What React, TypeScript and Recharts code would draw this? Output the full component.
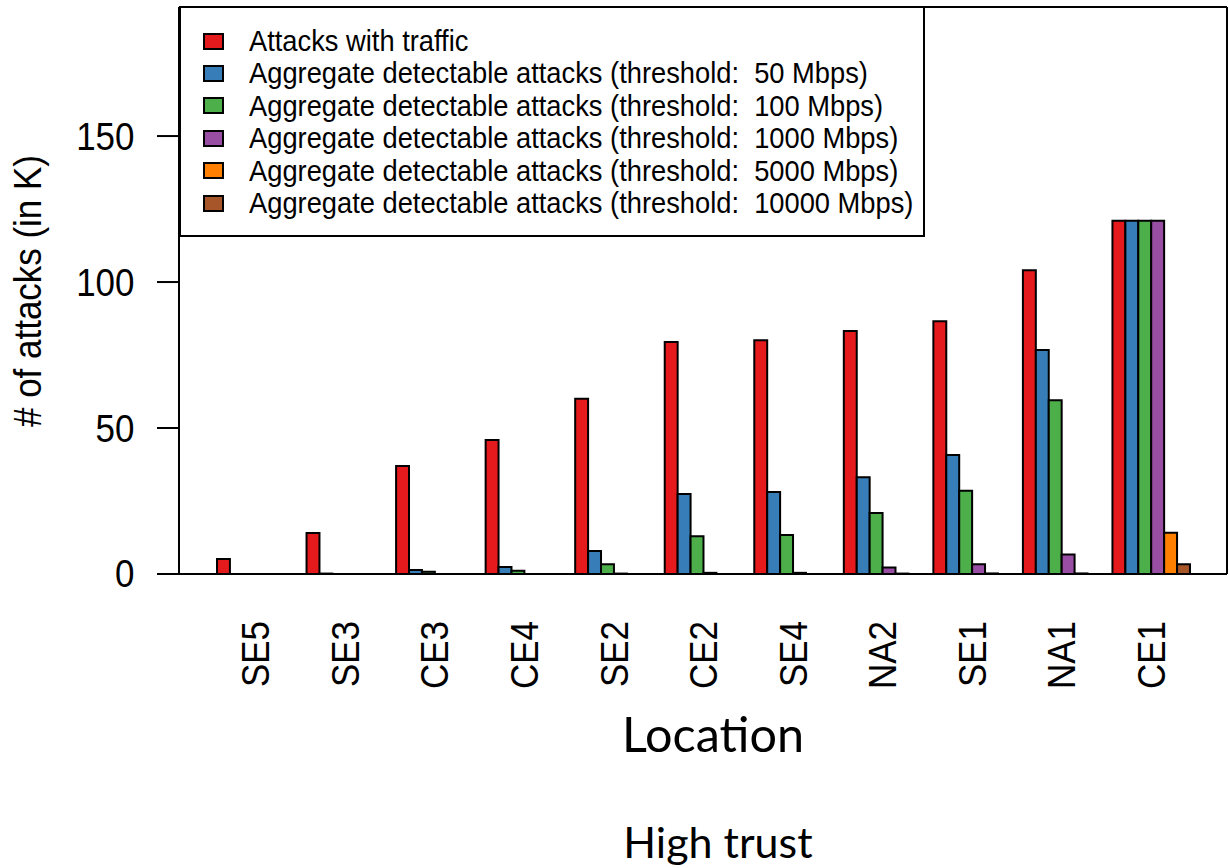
import React from 'react';
import { BarChart, Bar, XAxis, YAxis, CartesianGrid, Legend } from 'recharts';

const locations = ['SE5', 'SE3', 'CE3', 'CE4', 'SE2', 'CE2', 'SE4', 'NA2', 'SE1', 'NA1', 'CE1'];
const attacksWithTraffic = [5.1, 14.0, 37.0, 45.9, 60.0, 79.5, 80.1, 83.2, 86.6, 104.0, 121.0];
const detect50 = [0, 0.15, 1.4, 2.4, 7.9, 27.4, 28.1, 33.1, 40.8, 76.7, 121.0];
const detect100 = [0, 0, 0.8, 1.1, 3.3, 12.9, 13.4, 20.9, 28.5, 59.5, 121.0];
const detect1000 = [0, 0, 0, 0, 0.15, 0.4, 0.4, 2.2, 3.3, 6.7, 121.0];
const detect5000 = [0, 0, 0, 0, 0, 0, 0, 0.15, 0.2, 0.2, 14.1];
const detect10000 = [0, 0, 0, 0, 0, 0, 0, 0, 0, 0, 3.3];

const yTicks = [0, 50, 100, 150];

const seriesKeys = ['traffic', 't50', 't100', 't1000', 't5000', 't10000'];
const seriesNames = [
  'Attacks with traffic',
  'Aggregate detectable attacks (threshold:  50 Mbps)',
  'Aggregate detectable attacks (threshold:  100 Mbps)',
  'Aggregate detectable attacks (threshold:  1000 Mbps)',
  'Aggregate detectable attacks (threshold:  5000 Mbps)',
  'Aggregate detectable attacks (threshold:  10000 Mbps)',
];
const seriesColors = ['#E41A1C', '#377EB8', '#4DAF4A', '#984EA3', '#FF7F00', '#A65628'];
const seriesValues = [attacksWithTraffic, detect50, detect100, detect1000, detect5000, detect10000];

const data = locations.map((name, i) => {
  const row: Record<string, number | string> = { name };
  seriesKeys.forEach((k, j) => {
    row[k] = seriesValues[j][i];
  });
  return row;
});

const FONT = '"Liberation Sans", Arial, Helvetica, sans-serif';
const TITLE_FONT = "Lato, 'Open Sans', sans-serif";

const XTick = (props: any) => {
  const { x, payload } = props;
  return (
    <text
      transform={`translate(${x + 13.6},621) rotate(-90) scale(0.92,1)`}
      textAnchor="end"
      fontFamily={FONT}
      fontSize={38}
      fill="#000"
    >
      {payload.value}
    </text>
  );
};

const YTick = (props: any) => {
  const { y, payload } = props;
  return (
    <text
      transform={`translate(134.5,${y}) scale(0.92,1)`}
      textAnchor="end"
      dy="0.355em"
      fontFamily={FONT}
      fontSize={38}
      fill="#000"
    >
      {payload.value}
    </text>
  );
};

const LegendBox = () => (
  <div
    style={{
      position: 'relative',
      width: 746,
      height: 231,
      border: '2px solid #000',
      boxSizing: 'border-box',
      background: '#fff',
      fontFamily: FONT,
    }}
  >
    {seriesNames.map((n, i) => {
      const cy = 33 + i * 32.4;
      return (
        <div key={n} style={{ position: 'absolute', left: 0, top: cy - 16, height: 32, width: 740 }}>
          <div
            style={{
              position: 'absolute',
              left: 22,
              top: 7.5,
              width: 21,
              height: 17,
              boxSizing: 'border-box',
              border: '2px solid #000',
              background: seriesColors[i],
            }}
          />
          <span
            style={{
              position: 'absolute',
              left: 68,
              top: 0,
              lineHeight: '32px',
              fontSize: 29.5,
              whiteSpace: 'pre',
              display: 'inline-block',
              transform: 'scaleX(0.925)',
              transformOrigin: 'left center',
              color: '#000',
            }}
          >
            {n}
          </span>
        </div>
      );
    })}
  </div>
);

const XLabels = () => (
  <g>
    <text x={713} y={752} textAnchor="middle" fontFamily={TITLE_FONT} fontSize={48.5} fill="#000">
      Location
    </text>
    <text x={718} y={858} textAnchor="middle" fontFamily={TITLE_FONT} fontSize={43} fill="#000">
      High trust
    </text>
  </g>
);

const YLabel = () => (
  <text
    transform="translate(41,291) rotate(-90) scale(0.92,1)"
    textAnchor="middle"
    fontFamily={FONT}
    fontSize={38}
    fill="#000"
  >
    # of attacks (in K)
  </text>
);

export default function App() {
  return (
    <div style={{ position: 'absolute', left: 0, top: 0, width: 1229, height: 868, background: '#fff' }}>
      <BarChart
        width={1229}
        height={868}
        data={data}
        margin={{ top: 7, right: 2, bottom: 234, left: 0 }}
        barGap={0}
        barCategoryGap={6}
        barSize={12.92}
      >
        <CartesianGrid
          horizontalPoints={[7, 574]}
          verticalPoints={[179, 1227]}
          stroke="#000"
          strokeWidth={2}
          strokeDasharray=""
        />
        <XAxis
          dataKey="name"
          height={60}
          padding={{ left: 32, right: 31 }}
          axisLine={false}
          tickLine={false}
          interval={0}
          tick={<XTick />}
          label={{ content: () => <XLabels /> }}
        />
        <YAxis
          width={179}
          domain={[0, 194.2]}
          allowDataOverflow
          ticks={yTicks}
          tickSize={22}
          axisLine={false}
          tickLine={{ stroke: '#000', strokeWidth: 2 }}
          tick={<YTick />}
          label={{ content: () => <YLabel /> }}
        />
        {seriesKeys.map((k, j) => (
          <Bar
            key={k}
            dataKey={k}
            name={seriesNames[j]}
            fill={seriesColors[j]}
            stroke="#000"
            strokeWidth={2}
            isAnimationActive={false}
          />
        ))}
        <Legend
          layout="horizontal"
          verticalAlign="middle"
          align="center"
          content={<LegendBox />}
          wrapperStyle={{ left: 179, top: 6, width: 746, height: 231 }}
        />
      </BarChart>
    </div>
  );
}
